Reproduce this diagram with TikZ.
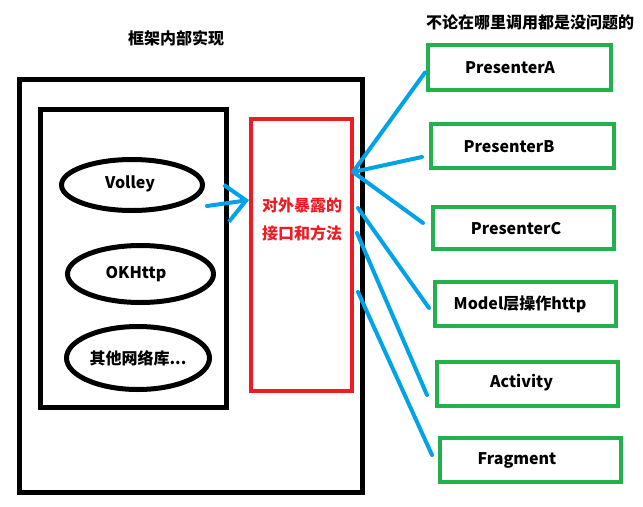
\documentclass[tikz,border=0pt]{standalone}
\usepackage{fontspec}
\setmainfont{Noto Sans CJK SC}
\usetikzlibrary{shapes.geometric,arrows.meta,calc}
\definecolor{pgreen}{HTML}{22B14C}
\definecolor{pred}{HTML}{ED1C24}
\definecolor{pblue}{HTML}{00A2E8}
\begin{document}
\begin{tikzpicture}[x=0.75pt,y=-0.75pt,
  txt/.style={font=\fontsize{12}{14}\selectfont\bfseries},
  gbox/.style={draw=pgreen,line width=3pt,minimum width={181*0.75pt},minimum height={44*0.75pt},inner sep=0pt},
  ell/.style={draw,ellipse,line width=3.75pt,inner sep=0pt},
  blk/.style={draw,line width=3.75pt,inner sep=0pt},
  conn/.style={draw=pblue,line width=3pt,line cap=round}]
\useasboundingbox[fill=white] (0,0) rectangle (643,507);
% titles
\node[txt] (t1) at (176,38) {框架内部实现};
\node[txt] (t2) at (530,22) {不论在哪里调用都是没问题的};
% boxes
\node[blk,minimum width={343*0.75pt},minimum height={413*0.75pt}] (outer) at (191,286) {};
\node[blk,minimum width={186*0.75pt},minimum height={298*0.75pt}] (inner) at (133.5,258.5) {};
\node[draw=pred,line width=3.4pt,inner sep=0pt,minimum width={101*0.75pt},minimum height={272*0.75pt}] (red) at (301.5,255) {};
\node[txt,text=pred,align=center,font=\fontsize{12}{21}\selectfont\bfseries] (redtxt) at (302,219) {对外暴露的\\接口和方法};
% ellipses
\node[ell,minimum width={141*0.75pt},minimum height={51*0.75pt}] (volley) at (132,185) {};
\node[txt] (volleyt) at (130,184) {Volley};
\node[ell,minimum width={146*0.75pt},minimum height={57*0.75pt}] (okhttp) at (140.5,274) {};
\node[txt] (okhttpt) at (136,274) {OKHttp};
\node[ell,minimum width={143*0.75pt},minimum height={63*0.75pt}] (other) at (138,358) {};
\node[txt] (othert) at (138,358) {其他网络库...};
% green boxes
\node[gbox,minimum width={183*0.75pt},minimum height={45*0.75pt}] (pA) at (519.5,67.5) {};
\node[txt] (pAt) at (510,68) {PresenterA};
\node[gbox,minimum width={183*0.75pt}] (pB) at (522.5,146) {};
\node[txt] (pBt) at (509,147) {PresenterB};
\node[gbox,minimum height={42*0.75pt}] (pC) at (523.5,228) {};
\node[txt] (pCt) at (516,229) {PresenterC};
\node[gbox] (model) at (525.5,304) {};
\node[txt] (modelt) at (520,304) {Model层操作http};
\node[gbox] (act) at (527.5,384) {};
\node[txt] (actt) at (521.5,383) {Activity};
\node[gbox] (frag) at (530.5,460) {};
\node[txt] (fragt) at (517,460) {Fragment};
% connectors
\coordinate (vs) at (207,206);
\coordinate (rv) at (249,200);
\draw[conn,-{Straight Barb[length=15pt,width=28pt]}] (vs) -- (rv);
\coordinate (hub) at (353,172);
\coordinate (r1) at (358,208);
\coordinate (r2) at (357,233);
\coordinate (r3) at (358,292);
\draw[conn] (hub) -- ($(pA.west)+(-1,5)$);
\draw[conn] (hub) -- ($(pB.west)+(-7,11)$);
\draw[conn] (hub) -- ($(pC.west)+(-8,-5)$);
\draw[conn] (r1) -- ($(model.west)+(-4,4)$);
\draw[conn] (r2) -- ($(act.west)+(-8,11)$);
\draw[conn] (r3) -- ($(frag.west)+(-6,-5)$);
\end{tikzpicture}
\end{document}
